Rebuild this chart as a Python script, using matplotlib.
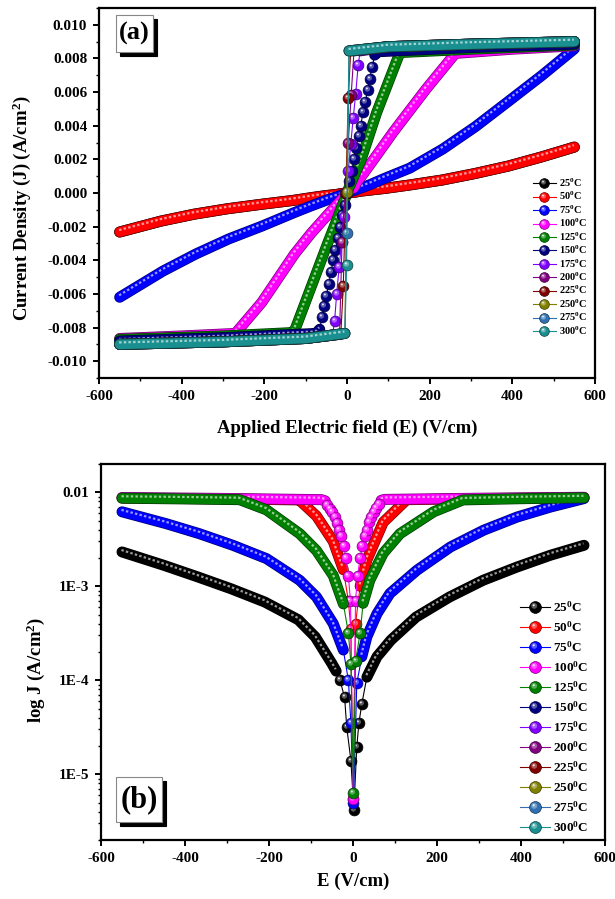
import numpy as np
import matplotlib
matplotlib.use("Agg")
import matplotlib.pyplot as plt
import matplotlib.patheffects as pe
from matplotlib.path import Path
from matplotlib.lines import Line2D
from matplotlib.patches import Rectangle
from matplotlib.legend_handler import HandlerTuple
from matplotlib.transforms import offset_copy
from matplotlib.colors import to_rgb

plt.rcParams.update({
    "font.family": ["Liberation Serif", "DejaVu Serif"],
    "font.weight": "bold",
    "axes.labelweight": "bold",
    "mathtext.fontset": "custom",
    "mathtext.rm": "Liberation Serif:bold",
    "mathtext.it": "Liberation Serif:bold:italic",
    "mathtext.bf": "Liberation Serif:bold",
    "axes.unicode_minus": False,
})

temps = [25, 50, 75, 100, 125, 150, 175, 200, 225, 250, 275, 300]
colors = ["#000000", "#FF0000", "#0000FF", "#FF00FF", "#008000", "#000080",
          "#8000FF", "#800080", "#800000", "#808000", "#3070B0", "#1A8F8F"]
labels = [f"{t}$^{{0}}$C" for t in temps]

# J-E sweeps, E in V/cm, J in A/cm^2
E_s1 = [-550, -450, -370, -290, -210, -130, -90, -50, -40, -31, -20, -15, -5, 2,
        9, 14, 21, 33, 57, 90, 150, 230, 310, 390, 470, 550]
J_s1 = [-2.32e-3, -1.67e-3, -1.26e-3, -9.4e-4, -6.8e-4, -4.4e-4, -2.9e-4, -1.5e-4,
        -1.25e-4, -1.0e-4, -6.6e-5, -3.2e-5, -1.4e-5, 4.2e-6, 1.95e-5, 3.5e-5,
        5.6e-5, 1.08e-4, 1.78e-4, 2.67e-4, 4.7e-4, 7.7e-4, 1.16e-3, 1.60e-3,
        2.14e-3, 2.73e-3]

E_s2 = [-550, -445, -366, -286, -206, -127, -87, -47, -23, -11, -5, 1, 9, 21, 33,
        57, 88, 152, 232, 311, 391, 471, 550]
J_s2 = [-6.2e-3, -4.64e-3, -3.63e-3, -2.73e-3, -1.97e-3, -1.16e-3, -7.7e-4, -4.0e-4,
        -2.1e-4, -1.0e-4, -3.5e-5, 4.9e-6, 9.3e-5, 1.78e-4, 2.9e-4, 5.1e-4, 8.4e-4,
        1.48e-3, 2.62e-3, 3.95e-3, 5.46e-3, 6.98e-3, 8.57e-3]

E_s3 = [-550, -400, -270, -206, -127, -87, -47, -23, -11, -5, 1, 6, 17, 24, 40,
        72, 112, 192, 262, 400, 550]
J_s3 = [-8.65e-3, -8.5e-3, -8.35e-3, -6.5e-3, -3.63e-3, -2.4e-3, -1.3e-3, -6.5e-4,
        -3.2e-4, -1.5e-4, 6.3e-6, 1.6e-4, 3.2e-4, 6.6e-4, 1.16e-3, 2.25e-3,
        3.63e-3, 6.2e-3, 8.3e-3, 8.55e-3, 8.75e-3]

E_s4 = [-550, -300, -134, -127, -87, -47, -23, -11, -5, 0, 6, 17, 33, 72, 128,
        300, 550]
J_s4 = [-8.7e-3, -8.5e-3, -8.3e-3, -8.2e-3, -5.6e-3, -3.0e-3, -1.5e-3, -7.0e-4,
        -3.5e-4, 5.5e-6, 4.0e-4, 1.0e-3, 1.9e-3, 4.8e-3, 8.35e-3, 8.55e-3, 8.8e-3]

E_s5 = [-550, -300, -75, -66, -61, -55, -50, -44, -39, -33, -28, -22, -17, -11,
        -6, 0, 6, 11, 17, 22, 28, 33, 39, 44, 50, 55, 61, 67, 75, 300, 550]
J_s5 = [-8.8e-3, -8.6e-3, -8.35e-3, -8.1e-3, -7.4e-3, -6.7e-3, -6.1e-3, -5.4e-3,
        -4.7e-3, -4.0e-3, -3.4e-3, -2.7e-3, -2.0e-3, -1.3e-3, -7.0e-4, 5.5e-6,
        7.0e-4, 1.3e-3, 2.0e-3, 2.7e-3, 3.4e-3, 4.0e-3, 4.8e-3, 5.4e-3, 6.1e-3,
        6.8e-3, 7.5e-3, 8.2e-3, 8.4e-3, 8.65e-3, 8.85e-3]

E_s6 = [-550, -300, -100, -35, -30, -25, -19, -13, -8, -2, 3, 9, 15, 21, 27, 32,
        100, 300, 550]
J_s6 = [-9.0e-3, -8.85e-3, -8.65e-3, -8.45e-3, -7.6e-3, -6.0e-3, -4.4e-3, -2.9e-3,
        -1.4e-3, 0.0, 1.3e-3, 2.9e-3, 4.45e-3, 5.9e-3, 7.6e-3, 8.45e-3, 8.7e-3,
        8.85e-3, 9.0e-3]

E_s7 = [-550, -300, -100, -18, -12, -5, 3, 10, 17, 100, 300, 550]
J_s7 = [-9.0e-3, -8.85e-3, -8.65e-3, -8.4e-3, -2.9e-3, 0.0, 2.97e-3, 5.8e-3,
        8.45e-3, 8.7e-3, 8.85e-3, 9.0e-3]

E_s8 = [-550, -300, -100, -15, -9, -3, 3, 9, 100, 300, 550]
J_s8 = [-9.0e-3, -8.85e-3, -8.65e-3, -8.4e-3, -5.55e-3, 0.0, 5.65e-3, 8.45e-3,
        8.7e-3, 8.85e-3, 9.0e-3]

E_s9 = [-550, -300, -100, -5, -1, 5, 100, 300, 550]
J_s9 = [-9.0e-3, -8.85e-3, -8.65e-3, -8.35e-3, 5.0e-5, 8.45e-3, 8.7e-3, 8.85e-3, 9.0e-3]
J_s10 = [-9.0e-3, -8.85e-3, -8.65e-3, -8.35e-3, -2.4e-3, 8.45e-3, 8.7e-3, 8.85e-3, 9.0e-3]
J_s11 = [-9.0e-3, -8.85e-3, -8.65e-3, -8.35e-3, -4.3e-3, 8.45e-3, 8.7e-3, 8.85e-3, 9.0e-3]

# (legend index, E, J, E-window drawn as separate spheres)
panel_a = [
    (0, E_s1, J_s1, None), (1, E_s1, J_s1, None), (2, E_s2, J_s2, None),
    (3, E_s3, J_s3, None), (4, E_s4, J_s4, None), (5, E_s5, J_s5, (-66, 66)),
    (6, E_s6, J_s6, (-35, 32)), (7, E_s7, J_s7, (-18, 17)), (8, E_s8, J_s8, (-15, 9)),
    (9, E_s9, J_s9, (-5, 5)), (10, E_s9, J_s10, (-5, 5)), (11, E_s9, J_s11, (-5, 5)),
]
panel_b = [
    (0, E_s1, J_s1, (-35, 33)), (1, E_s4, J_s4, (-12, 17)), (2, E_s2, J_s2, (-22, 20)),
    (3, E_s5, J_s5, (-66, 66)), (4, E_s3, J_s3, (-23, 24)),
]

xticks = [-600, -400, -200, 0, 200, 400, 600]
yticks_a = [-0.010, -0.008, -0.006, -0.004, -0.002, 0.0, 0.002, 0.004, 0.006, 0.008, 0.010]
ytick_labels_a = ["-0.010", "-0.008", "-0.006", "-0.004", "-0.002", "0.000",
                  "0.002", "0.004", "0.006", "0.008", "0.010"]
yticks_b = [1e-5, 1e-4, 1e-3, 1e-2]
ytick_labels_b = ["1E-5", "1E-4", "1E-3", "0.01"]

TUBE_W = 6.9
BALL_MS = 7.8


def shade(c, f):
    return tuple(np.array(to_rgb(c)) * f)


def tint(c, f):
    rgb = np.array(to_rgb(c))
    return tuple(rgb + (1 - rgb) * f)


def disc(cx, cy, r):
    # small circle marker, padded so it scales like 'o'
    circ = Path.circle((cx, cy), r)
    verts = np.vstack([[[-1, -1], [1, 1]], circ.vertices])
    codes = np.concatenate([[Path.MOVETO, Path.MOVETO], circ.codes])
    return Path(verts, codes)


GLOSS = disc(-0.22, 0.28, 0.5)
SPOT = disc(-0.3, 0.38, 0.18)


def sphere_handles(c, ms, lw=0.8):
    base = Line2D([], [], color=c, lw=lw, marker="o", ms=ms, mfc=c,
                  mec=shade(c, 0.45), mew=0.5)
    gloss = Line2D([], [], ls="none", marker=GLOSS, ms=ms, mfc=tint(c, 0.35), mec="none")
    spot = Line2D([], [], ls="none", marker=SPOT, ms=ms, mfc="white", mec="none", alpha=0.85)
    return base, gloss, spot


def draw_series(ax, E, J, c, window, z, logy=False):
    E = np.asarray(E, float)
    y = np.abs(np.asarray(J, float)) if logy else np.asarray(J, float)
    ax.plot(E, y, color=c, lw=0.8, zorder=z)
    if window is None:
        tube = np.ones(len(E), bool)
    else:
        tube = (E <= window[0]) | (E >= window[1])
    yt = np.where(tube, y, np.nan)
    ax.plot(E, yt, color=c, lw=TUBE_W, solid_capstyle="round", solid_joinstyle="round",
            zorder=z + 0.1,
            path_effects=[pe.Stroke(linewidth=TUBE_W + 1.0, foreground=shade(c, 0.45)),
                          pe.Normal()])
    hi = offset_copy(ax.transData, fig=ax.figure, x=-0.4, y=1.4, units="points")
    ax.plot(E, yt, color=tint(c, 0.6), lw=1.6, ls=(0, (1.1, 1.0)), transform=hi,
            zorder=z + 0.2)
    if not tube.all():
        Eb, yb = E[~tube], y[~tube]
        ax.plot(Eb, yb, ls="none", marker="o", ms=BALL_MS, mfc=c,
                mec=shade(c, 0.45), mew=0.5, zorder=z + 0.3)
        ax.plot(Eb, yb, ls="none", marker=GLOSS, ms=BALL_MS, mfc=tint(c, 0.35),
                mec="none", zorder=z + 0.31)
        ax.plot(Eb, yb, ls="none", marker=SPOT, ms=BALL_MS, mfc="white", mec="none",
                alpha=0.85, zorder=z + 0.32)


def style_axes(ax):
    for s in ax.spines.values():
        s.set_linewidth(1.6)
    ax.tick_params(which="major", direction="out", length=4.5, width=1.4,
                   labelsize=11, pad=4, top=False, right=False)
    ax.tick_params(which="minor", direction="out", length=2.5, width=1.0,
                   top=False, right=False)


def panel_tag(ax, text, x0, y0, w, h, size):
    # white box with a black drop shadow to the lower right
    shadow = offset_copy(ax.transAxes, fig=ax.figure, x=3.0, y=-3.0, units="points")
    ax.add_patch(Rectangle((x0, y0), w, h, transform=shadow, fc="black", ec="black",
                           lw=0.8, zorder=20))
    ax.add_patch(Rectangle((x0, y0), w, h, transform=ax.transAxes, fc="white",
                           ec="#888888", lw=0.8, zorder=21))
    ax.text(x0 + w / 2, y0 + h / 2, text, transform=ax.transAxes, ha="center",
            va="center", fontsize=size, zorder=22)


fig = plt.figure(figsize=(6.15, 8.99), dpi=100)
ax_a = fig.add_axes([99 / 615, 1 - 378 / 899, 496 / 615, 370 / 899])
ax_b = fig.add_axes([101 / 615, 1 - 840 / 899, 504 / 615, 376 / 899])

# (a) J-E curves
for k, (i, E, J, win) in enumerate(panel_a):
    draw_series(ax_a, E, J, colors[i], win, 2 + k)
ax_a.set_xlim(-600, 600)
ax_a.set_ylim(-0.011, 0.011)
ax_a.set_xticks(xticks)
ax_a.set_xticks(np.arange(-500, 600, 200), minor=True)
ax_a.set_yticks(yticks_a, ytick_labels_a)
ax_a.set_yticks(np.arange(-0.011, 0.0111, 0.002), minor=True)
style_axes(ax_a)
ax_a.set_xlabel("Applied Electric field (E) (V/cm)", fontsize=13.5)
ax_a.set_ylabel("Current Density (J) (A/cm$^2$)", fontsize=13.5)
ax_a.xaxis.set_label_coords(0.5, -0.112)
ax_a.yaxis.set_label_coords(-0.133, 0.46)
panel_tag(ax_a, "(a)", 0.0343, 0.881, 0.0746, 0.100, 19)

# (b) |J| on a log scale
for k, (i, E, J, win) in enumerate(panel_b):
    draw_series(ax_b, E, J, colors[i], win, 2 + k, logy=True)
ax_b.set_yscale("log")
ax_b.set_xlim(-600, 600)
ax_b.set_ylim(2e-6, 2e-2)
ax_b.set_xticks(xticks)
ax_b.set_xticks(np.arange(-500, 600, 200), minor=True)
ax_b.set_yticks(yticks_b, ytick_labels_b)
ax_b.yaxis.set_minor_formatter(matplotlib.ticker.NullFormatter())
style_axes(ax_b)
ax_b.set_xlabel("E (V/cm)", fontsize=13.5)
ax_b.set_ylabel("log J (A/cm$^2$)", fontsize=13.5)
ax_b.xaxis.set_label_coords(0.5, -0.088)
ax_b.yaxis.set_label_coords(-0.107, 0.452)
panel_tag(ax_b, "(b)", 0.0298, 0.0479, 0.0913, 0.1197, 22)

# legends
for ax, fs, ms, x0, yc, hl, sp in [(ax_a, 7.5, 7, 0.875, 0.328, 2.2, 0.1),
                                   (ax_b, 9.5, 8.5, 0.831, 0.327, 2.3, 0.41)]:
    handles = [sphere_handles(c, ms) for c in colors]
    ax.legend(handles, labels, handler_map={tuple: HandlerTuple(ndivide=1, pad=0)},
              loc="center left", bbox_to_anchor=(x0, yc), frameon=False, fontsize=fs,
              numpoints=1, handlelength=hl, handletextpad=0.25, labelspacing=sp,
              borderpad=0, borderaxespad=0)

fig.savefig("out.png", dpi=100)
